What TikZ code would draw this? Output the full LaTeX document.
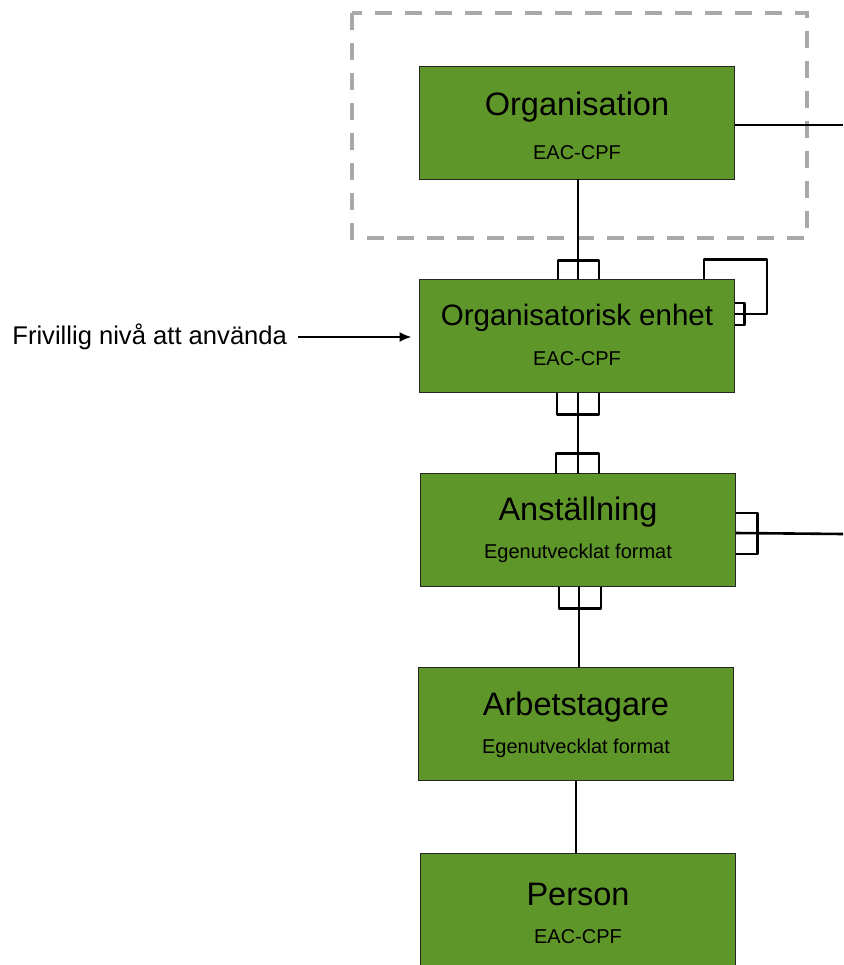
\documentclass[tikz,border=0pt]{standalone}
\usepackage{fontspec}
\setmainfont{Liberation Sans}
\usetikzlibrary{arrows.meta}
\definecolor{entgreen}{RGB}{95,150,42}
\definecolor{framegray}{RGB}{170,169,168}

\begin{document}
\begin{tikzpicture}[x=1pt, y=-1pt]
\tikzset{ >={Latex[length=12pt,width=10pt]}, inner sep=0pt, outer sep=0pt,
  entity/.style={draw=black!85, fill=entgreen, line width=1.6pt, minimum width=315pt, minimum height=113pt},
  entname/.style={font=\fontsize{32.5}{36}\selectfont},
  entfmt/.style={font=\fontsize{20}{24}\selectfont},
  rel/.style={line width=2.6pt, line join=round},
}

\useasboundingbox (0,0) rectangle (843,965);

%\draw [lightgray, dashed](0,0) grid[step=50] (843,965);

\draw [framegray, line width=4pt, dash pattern=on 17pt off 13pt] (352,13) rectangle (807,238);

\node [entity] (O)  at (577,123) {};
\node [entity] (OE) at (577,336) {};
\node [entity] (A)  at (578,530) {};
\node [entity] (AT) at (576,724) {};
\node [entity] (P)  at (578,910) {};

\coordinate (Oend) at (843,125);
\coordinate (Aend) at (843,534);

\draw [rel] ([yshift=-2pt]O.east) -- (Oend);
\draw [rel] ([xshift=1pt]O.south) -- ([xshift=1pt]OE.north);

% crow's feet
\draw [rel] ([xshift=-19pt]OE.north) -- ++(0,-19) -- ++(41,0) -- ++(0,19);
\draw [rel] ([xshift=127pt]OE.north) -- ++(0,-20) -- ++(63,0) |- ([yshift=22pt]OE.east);
\draw [rel] ([yshift=33pt]OE.east) -- ++(10,0) -- ++(0,22) -- ++(-10,0);
\draw [rel] ([xshift=-20pt]OE.south) -- ++(0,22) -- ++(42,0) -- ++(0,-22);

\draw [rel] ([xshift=1pt]OE.south) -- (A.north);

\draw [rel] ([xshift=-22pt]A.north) -- ++(0,-20) -- ++(43,0) -- ++(0,20);
\draw [rel] ([yshift=17pt]A.east) -- ++(22,0) -- ++(0,41) -- ++(-22,0);
\draw [rel] ([yshift=-3pt]A.east) -- (Aend);
\draw [rel] ([xshift=-19pt]A.south) -- ++(0,22) -- ++(42,0) -- ++(0,-22);

\draw [rel] ([xshift=1pt]A.south) -- ([xshift=1pt]A.south |- AT.north);
\draw [rel] (AT.south) -- (AT.south |- P.north);

\node [entname] (Ot)  at (577,107) {Organisation};
\node [entfmt]  (Of)  at (577,153) {EAC-CPF};
\node [entname, font=\fontsize{29.5}{33}\selectfont] (OEt) at (577,318) {Organisatorisk enhet};
\node [entfmt]  (OEf) at (577,359) {EAC-CPF};
\node [entname] (At)  at (578,512) {Anställning};
\node [entfmt]  (Af)  at (578,553) {Egenutvecklat format};
\node [entname] (ATt) at (576,707) {Arbetstagare};
\node [entfmt]  (ATf) at (576,748) {Egenutvecklat format};
\node [entname] (Pt)  at (578,894) {Person};
\node [entfmt]  (Pf)  at (578,937) {EAC-CPF};

\node [anchor=east, font=\fontsize{25.6}{30}\selectfont] (N) at (287,337) {Frivillig nivå att använda};
\draw [->, line width=2pt, shorten >=8pt] ([xshift=11pt]N.east) -- ([yshift=-1pt]OE.west);

\end{tikzpicture}
\end{document}
